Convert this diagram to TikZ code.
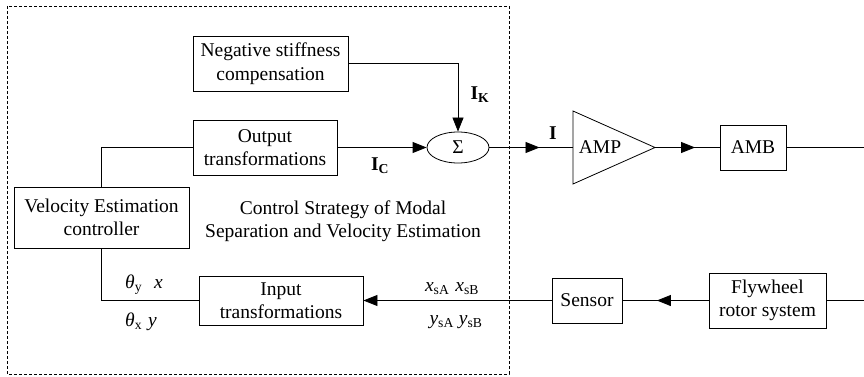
\documentclass[tikz,border=0pt]{standalone}
\usepackage{fontspec}
\setmainfont{Liberation Serif}
\usetikzlibrary{arrows.meta,shapes.geometric,decorations.markings}
\tikzset{
	blk/.style={draw, rectangle, line width=0.8pt, align=center, inner sep=0pt},
	lbl/.style={inner sep=0pt, align=center},
	tip/.tip={Triangle[length=14pt,width=11pt]},
	midarrow/.style={postaction={decorate}, decoration={markings, mark=at position #1 with {\arrow{tip}}}}
}

\begin{document}
\begin{tikzpicture}[x=1pt, y=-1pt, line width=0.8pt, font=\fontsize{19.5}{23.5}\selectfont]
		%%%%% START %%%%%
		\useasboundingbox (0,0) rectangle (864,377);
		
		% controller frame
		\draw[line width=0.6pt, dash pattern=on 3pt off 2pt] (7,6) rectangle (509,374);
		
		% blocks
		\node[blk, minimum width=155pt, minimum height=55pt] (neg) at (270.5,63.5) {Negative stiffness\\compensation};
		\node[blk, minimum width=144pt, minimum height=55pt] (out) at (265,147.5) {Output\\transformations};
		\node[draw, ellipse, line width=0.8pt, minimum width=62pt, minimum height=31pt, inner sep=0pt] (sum) at (458,147.5) {Σ};
		\node[blk, minimum width=175pt, minimum height=61pt] (vel) at (101.5,217.5) {Velocity Estimation\\controller};
		\node[blk, minimum width=164pt, minimum height=49pt] (inp) at (281,300.5) {Input\\transformations};
		\node[blk, minimum width=70pt, minimum height=45pt] (sens) at (587,300.5) {Sensor};
		\node[blk, minimum width=117pt, minimum height=55pt] (fly) at (767.5,300.5) {Flywheel\\rotor system};
		\node[blk, minimum width=66pt, minimum height=45pt] (amb) at (753,147.5) {AMB};
		
		% amplifier
		\coordinate (ampin) at (573,147.5);
		\coordinate (ampout) at (655,147.5);
		\draw (573,111) -- (ampout) -- (573,184) -- cycle;
		\node[lbl] (amp) at (600,147.5) {AMP};
		
		% open ends at the right border
		\coordinate (endA) at (864,147.5);
		\coordinate (endB) at (864,300.5);
		
		% signal lines
		\draw[-tip] (neg.east) -| (sum.north);
		\draw[-tip] (out.east) -- (sum.west);
		\draw[midarrow=0.6] (sum.east) -- (ampin);
		\draw[midarrow=0.62] (ampout) -- (amb.west);
		\draw (amb.east) -- (endA);
		\draw (fly.east) -- (endB);
		\draw[midarrow=0.6] (fly.west) -- (sens.east);
		\draw[-tip] (sens.west) -- (inp.east);
		\draw (out.west) -| (vel.north);
		\draw (vel.south) |- (inp.west);
		
		% labels
		\node[lbl] (ik) at (480,95) {\textbf{I}\textsubscript{\textbf{K}}};
		\node[lbl] (ic) at (380,166) {\textbf{I}\textsubscript{\textbf{C}}};
		\node[lbl] (ii) at (553,133) {\textbf{I}};
		\node[lbl] (thy) at (144,285) {\textit{θ}\textsubscript{y}\hspace{12pt}\textit{x}};
		\node[lbl] (thx) at (141,322) {\textit{θ}\textsubscript{x}\hspace{6pt}\textit{y}};
		\node[lbl] (xs) at (452,289) {\textit{x}\textsubscript{sA}\hspace{6pt}\textit{x}\textsubscript{sB}};
		\node[lbl] (ys) at (456,322) {\textit{y}\textsubscript{sA}\hspace{5pt}\textit{y}\textsubscript{sB}};
		\node[lbl] (cap) at (343,221) {Control Strategy of Modal\\Separation and Velocity Estimation};
		%%%%% END %%%%%
\end{tikzpicture}
\end{document}
